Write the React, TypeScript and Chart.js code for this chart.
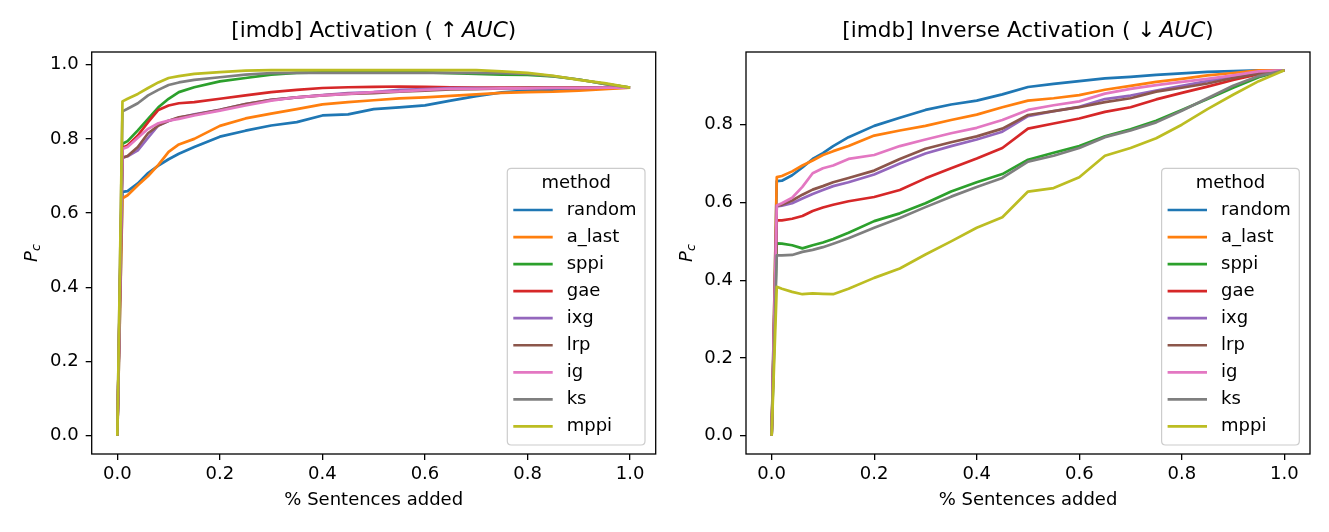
import React, { useEffect, useRef } from "react";
import { Chart, registerables } from "chart.js";
Chart.register(...registerables);

const X = [0, 0.01, 0.02, 0.04, 0.06, 0.08, 0.1, 0.12, 0.15, 0.2, 0.25, 0.3, 0.35, 0.4, 0.45, 0.5, 0.55, 0.6, 0.65, 0.7, 0.75, 0.8, 0.85, 0.9, 0.95, 1.0];
const METHODS = ["random", "a_last", "sppi", "gae", "ixg", "lrp", "ig", "ks", "mppi"];
const COLORS = ["#1f77b4", "#ff7f0e", "#2ca02c", "#d62728", "#9467bd", "#8c564b", "#e377c2", "#7f7f7f", "#bcbd22"];
const X_TICKS = [0, 0.2, 0.4, 0.6, 0.8, 1.0];
const Y_TICKS_ACT = [0, 0.2, 0.4, 0.6, 0.8, 1.0];
const Y_TICKS_INV = [0, 0.2, 0.4, 0.6, 0.8];

// Activation (higher AUC better)
const ACT_RANDOM = [0, 0.657, 0.659, 0.680, 0.708, 0.728, 0.745, 0.760, 0.778, 0.806, 0.822, 0.836, 0.845, 0.863, 0.866, 0.880, 0.885, 0.890, 0.903, 0.915, 0.925, 0.930, 0.932, 0.935, 0.937, 0.938];
const ACT_A_LAST = [0, 0.640, 0.648, 0.675, 0.700, 0.730, 0.765, 0.785, 0.800, 0.835, 0.855, 0.868, 0.880, 0.893, 0.899, 0.904, 0.909, 0.912, 0.916, 0.920, 0.924, 0.926, 0.927, 0.930, 0.934, 0.938];
const ACT_SPPI = [0, 0.787, 0.794, 0.823, 0.854, 0.885, 0.908, 0.926, 0.939, 0.955, 0.964, 0.973, 0.978, 0.979, 0.979, 0.979, 0.979, 0.979, 0.977, 0.975, 0.973, 0.972, 0.968, 0.960, 0.948, 0.938];
const ACT_GAE = [0, 0.776, 0.782, 0.809, 0.845, 0.878, 0.890, 0.896, 0.899, 0.908, 0.917, 0.926, 0.932, 0.937, 0.939, 0.940, 0.941, 0.940, 0.939, 0.938, 0.938, 0.938, 0.938, 0.938, 0.938, 0.938];
const ACT_IXG = [0, 0.749, 0.753, 0.769, 0.803, 0.836, 0.848, 0.857, 0.866, 0.878, 0.894, 0.905, 0.912, 0.918, 0.923, 0.926, 0.932, 0.934, 0.937, 0.937, 0.937, 0.937, 0.937, 0.937, 0.938, 0.938];
const ACT_LRP = [0, 0.749, 0.754, 0.778, 0.815, 0.836, 0.849, 0.858, 0.865, 0.878, 0.894, 0.905, 0.912, 0.917, 0.921, 0.923, 0.927, 0.930, 0.933, 0.934, 0.936, 0.937, 0.937, 0.937, 0.938, 0.938];
const ACT_IG = [0, 0.773, 0.778, 0.803, 0.827, 0.842, 0.849, 0.854, 0.863, 0.876, 0.890, 0.903, 0.912, 0.917, 0.921, 0.926, 0.928, 0.932, 0.935, 0.935, 0.936, 0.936, 0.937, 0.937, 0.938, 0.938];
const ACT_KS = [0, 0.874, 0.881, 0.896, 0.917, 0.932, 0.945, 0.952, 0.959, 0.966, 0.973, 0.977, 0.978, 0.978, 0.978, 0.978, 0.978, 0.978, 0.978, 0.978, 0.977, 0.975, 0.969, 0.960, 0.948, 0.938];
const ACT_MPPI = [0, 0.901, 0.908, 0.921, 0.937, 0.952, 0.964, 0.969, 0.975, 0.980, 0.984, 0.985, 0.985, 0.985, 0.985, 0.985, 0.985, 0.985, 0.985, 0.985, 0.982, 0.978, 0.970, 0.959, 0.950, 0.938];

// Inverse Activation (lower AUC better)
const INV_RANDOM = [0, 0.655, 0.656, 0.670, 0.690, 0.712, 0.727, 0.745, 0.768, 0.797, 0.818, 0.838, 0.852, 0.862, 0.878, 0.897, 0.905, 0.912, 0.919, 0.923, 0.928, 0.932, 0.936, 0.938, 0.940, 0.940];
const INV_A_LAST = [0, 0.665, 0.668, 0.680, 0.695, 0.708, 0.722, 0.732, 0.745, 0.772, 0.785, 0.797, 0.812, 0.826, 0.845, 0.862, 0.868, 0.876, 0.890, 0.900, 0.910, 0.918, 0.927, 0.933, 0.940, 0.940];
const INV_SPPI = [0, 0.495, 0.494, 0.490, 0.482, 0.490, 0.497, 0.506, 0.522, 0.552, 0.572, 0.598, 0.628, 0.652, 0.673, 0.710, 0.728, 0.745, 0.770, 0.788, 0.810, 0.838, 0.866, 0.895, 0.922, 0.940];
const INV_GAE = [0, 0.554, 0.554, 0.558, 0.565, 0.578, 0.587, 0.594, 0.603, 0.614, 0.632, 0.662, 0.688, 0.713, 0.740, 0.790, 0.803, 0.816, 0.833, 0.845, 0.865, 0.882, 0.898, 0.915, 0.930, 0.940];
const INV_IXG = [0, 0.590, 0.592, 0.598, 0.610, 0.622, 0.632, 0.642, 0.652, 0.672, 0.700, 0.726, 0.745, 0.762, 0.782, 0.822, 0.835, 0.846, 0.866, 0.875, 0.888, 0.900, 0.912, 0.925, 0.935, 0.940];
const INV_LRP = [0, 0.592, 0.594, 0.605, 0.620, 0.633, 0.642, 0.652, 0.663, 0.682, 0.712, 0.738, 0.755, 0.770, 0.790, 0.825, 0.835, 0.845, 0.858, 0.868, 0.885, 0.895, 0.906, 0.920, 0.932, 0.940];
const INV_IG = [0, 0.592, 0.598, 0.612, 0.640, 0.675, 0.688, 0.695, 0.712, 0.722, 0.745, 0.762, 0.778, 0.792, 0.812, 0.838, 0.850, 0.860, 0.880, 0.892, 0.902, 0.910, 0.918, 0.927, 0.937, 0.940];
const INV_KS = [0, 0.464, 0.464, 0.465, 0.473, 0.478, 0.485, 0.494, 0.508, 0.535, 0.560, 0.588, 0.615, 0.640, 0.663, 0.705, 0.720, 0.740, 0.768, 0.785, 0.806, 0.836, 0.868, 0.900, 0.925, 0.940];
const INV_MPPI = [0, 0.383, 0.378, 0.370, 0.364, 0.366, 0.365, 0.364, 0.378, 0.406, 0.430, 0.466, 0.500, 0.535, 0.562, 0.628, 0.637, 0.665, 0.720, 0.740, 0.765, 0.800, 0.840, 0.877, 0.912, 0.940];

const ACT_SERIES = [ACT_RANDOM, ACT_A_LAST, ACT_SPPI, ACT_GAE, ACT_IXG, ACT_LRP, ACT_IG, ACT_KS, ACT_MPPI];
const INV_SERIES = [INV_RANDOM, INV_A_LAST, INV_SPPI, INV_GAE, INV_IXG, INV_LRP, INV_IG, INV_KS, INV_MPPI];

const FONT = '"DejaVu Sans", sans-serif';
const FS = 18;
const TITLE_FS = 21.6;

type Panel = {
  series: number[][];
  yTicks: number[];
  yMin: number;
  yMax: number;
  titlePre: string;
  arrow: string;
  axisWidth: number;
  rightPad: number;
  yLabelX: number;
};

const decorPlugin = {
  id: "decor",
  afterDraw(chart: any, _args: any, opts: any) {
    const ctx = chart.ctx as CanvasRenderingContext2D;
    const a = chart.chartArea;
    ctx.save();
    // frame
    ctx.strokeStyle = "#000";
    ctx.lineWidth = 1.3;
    ctx.strokeRect(a.left, a.top, a.right - a.left, a.bottom - a.top);

    // title
    const cx = (a.left + a.right) / 2;
    const parts: { t: string; it: boolean }[] = [
      { t: opts.titlePre + "( ", it: false },
      { t: opts.arrow, it: false },
      { t: "\u2009", it: false },
      { t: "AUC", it: true },
      { t: ")", it: false },
    ];
    let total = 0;
    for (const p of parts) {
      ctx.font = `${p.it ? "italic " : ""}${TITLE_FS}px ${FONT}`;
      total += ctx.measureText(p.t).width;
    }
    let x = cx - total / 2;
    ctx.fillStyle = "#000";
    ctx.textBaseline = "middle";
    ctx.textAlign = "left";
    for (const p of parts) {
      ctx.font = `${p.it ? "italic " : ""}${TITLE_FS}px ${FONT}`;
      ctx.fillText(p.t, x, 31);
      x += ctx.measureText(p.t).width;
    }

    // x label
    ctx.font = `${FS}px ${FONT}`;
    ctx.textAlign = "center";
    ctx.fillText("% Sentences added", cx, 500);

    // y label P_c
    ctx.save();
    const cy = (a.top + a.bottom) / 2;
    ctx.translate(opts.yLabelX, cy);
    ctx.rotate(-Math.PI / 2);
    ctx.font = `italic ${FS}px ${FONT}`;
    const pw = ctx.measureText("P").width;
    ctx.font = `italic ${FS * 0.7}px ${FONT}`;
    const cw = ctx.measureText("c").width;
    const tw = pw + cw;
    ctx.textAlign = "left";
    ctx.textBaseline = "alphabetic";
    ctx.font = `italic ${FS}px ${FONT}`;
    ctx.fillText("P", -tw / 2, 6.5);
    ctx.font = `italic ${FS * 0.7}px ${FONT}`;
    ctx.fillText("c", -tw / 2 + pw, 10);
    ctx.restore();

    // legend
    const bw = 137.7;
    const bh = 276.7;
    const bx = a.right - 10.7 - bw;
    const by = a.bottom - 9 - bh;
    const r = 4;
    ctx.beginPath();
    ctx.moveTo(bx + r, by);
    ctx.lineTo(bx + bw - r, by);
    ctx.quadraticCurveTo(bx + bw, by, bx + bw, by + r);
    ctx.lineTo(bx + bw, by + bh - r);
    ctx.quadraticCurveTo(bx + bw, by + bh, bx + bw - r, by + bh);
    ctx.lineTo(bx + r, by + bh);
    ctx.quadraticCurveTo(bx, by + bh, bx, by + bh - r);
    ctx.lineTo(bx, by + r);
    ctx.quadraticCurveTo(bx, by, bx + r, by);
    ctx.closePath();
    ctx.fillStyle = "rgba(255,255,255,0.8)";
    ctx.fill();
    ctx.strokeStyle = "#cccccc";
    ctx.lineWidth = 1.2;
    ctx.stroke();

    ctx.fillStyle = "#000";
    ctx.font = `${FS}px ${FONT}`;
    ctx.textAlign = "center";
    ctx.textBaseline = "middle";
    ctx.fillText("method", bx + bw / 2, by + 15);
    ctx.textAlign = "left";
    METHODS.forEach((m, i) => {
      const yy = by + 41.7 + i * 27.05;
      ctx.strokeStyle = COLORS[i];
      ctx.lineWidth = 2.7;
      ctx.beginPath();
      ctx.moveTo(bx + 6, yy);
      ctx.lineTo(bx + 45.4, yy);
      ctx.stroke();
      ctx.fillStyle = "#000";
      ctx.fillText(m, bx + 59.4, yy);
    });
    ctx.restore();
  },
};

function PanelChart({ p, left, width }: { p: Panel; left: number; width: number }) {
  const ref = useRef<HTMLCanvasElement | null>(null);
  useEffect(() => {
    if (!ref.current) return;
    const datasets = METHODS.map((m, i) => ({
      label: m,
      data: X.map((x, j) => ({ x, y: p.series[i][j] })),
      borderColor: COLORS[i],
      backgroundColor: COLORS[i],
      borderWidth: 2.7,
      pointRadius: 0,
      tension: 0,
      fill: false,
      borderJoinStyle: "round" as const,
      order: 9 - i,
    }));
    const chart = new Chart(ref.current, {
      type: "line",
      data: { datasets },
      plugins: [decorPlugin],
      options: {
        responsive: false,
        animation: false,
        devicePixelRatio: 1,
        layout: { padding: { top: 52, right: p.rightPad, left: 0, bottom: 0 } },
        plugins: {
          legend: { display: false },
          tooltip: { enabled: false },
          title: { display: false },
          decor: { titlePre: p.titlePre, arrow: p.arrow, yLabelX: p.yLabelX },
        } as any,
        scales: {
          x: {
            type: "linear",
            min: -0.05,
            max: 1.05,
            afterBuildTicks: (s: any) => {
              s.ticks = X_TICKS.map((v) => ({ value: v }));
            },
            afterFit: (s: any) => {
              s.height = 78;
            },
            ticks: {
              callback: (v: any) => Number(v).toFixed(1),
              font: { family: FONT, size: FS },
              color: "#000",
              padding: 4,
              maxRotation: 0,
              autoSkip: false,
            },
            grid: { display: true, drawOnChartArea: false, drawTicks: true, tickLength: 6, color: "#000", lineWidth: 1.3 },
            border: { display: false },
          },
          y: {
            type: "linear",
            min: p.yMin,
            max: p.yMax,
            afterBuildTicks: (s: any) => {
              s.ticks = p.yTicks.map((v) => ({ value: v }));
            },
            afterFit: (s: any) => {
              s.width = p.axisWidth;
            },
            ticks: {
              callback: (v: any) => Number(v).toFixed(1),
              font: { family: FONT, size: FS },
              color: "#000",
              padding: 7,
              autoSkip: false,
            },
            grid: { display: true, drawOnChartArea: false, drawTicks: true, tickLength: 6, color: "#000", lineWidth: 1.3 },
            border: { display: false },
          },
        },
      } as any,
    });
    return () => chart.destroy();
  }, [p]);
  return (
    <canvas
      ref={ref}
      width={width}
      height={532}
      style={{ position: "absolute", left, top: 0, width, height: 532 }}
    />
  );
}

const LEFT: Panel = {
  series: ACT_SERIES,
  yTicks: Y_TICKS_ACT,
  yMin: -0.049,
  yMax: 1.034,
  titlePre: "[imdb] Activation ",
  arrow: "\u2191",
  axisWidth: 91.7,
  rightPad: 9.3,
  yLabelX: 30,
};

const RIGHT: Panel = {
  series: INV_SERIES,
  yTicks: Y_TICKS_INV,
  yMin: -0.047,
  yMax: 0.987,
  titlePre: "[imdb] Inverse Activation ",
  arrow: "\u2193",
  axisWidth: 81,
  rightPad: 19,
  yLabelX: 20,
};

export default function App() {
  return (
    <div style={{ position: "absolute", left: 0, top: 0, width: 1329, height: 532, background: "#fff", overflow: "hidden" }}>
      <PanelChart p={LEFT} left={0} width={665} />
      <PanelChart p={RIGHT} left={665} width={664} />
    </div>
  );
}
